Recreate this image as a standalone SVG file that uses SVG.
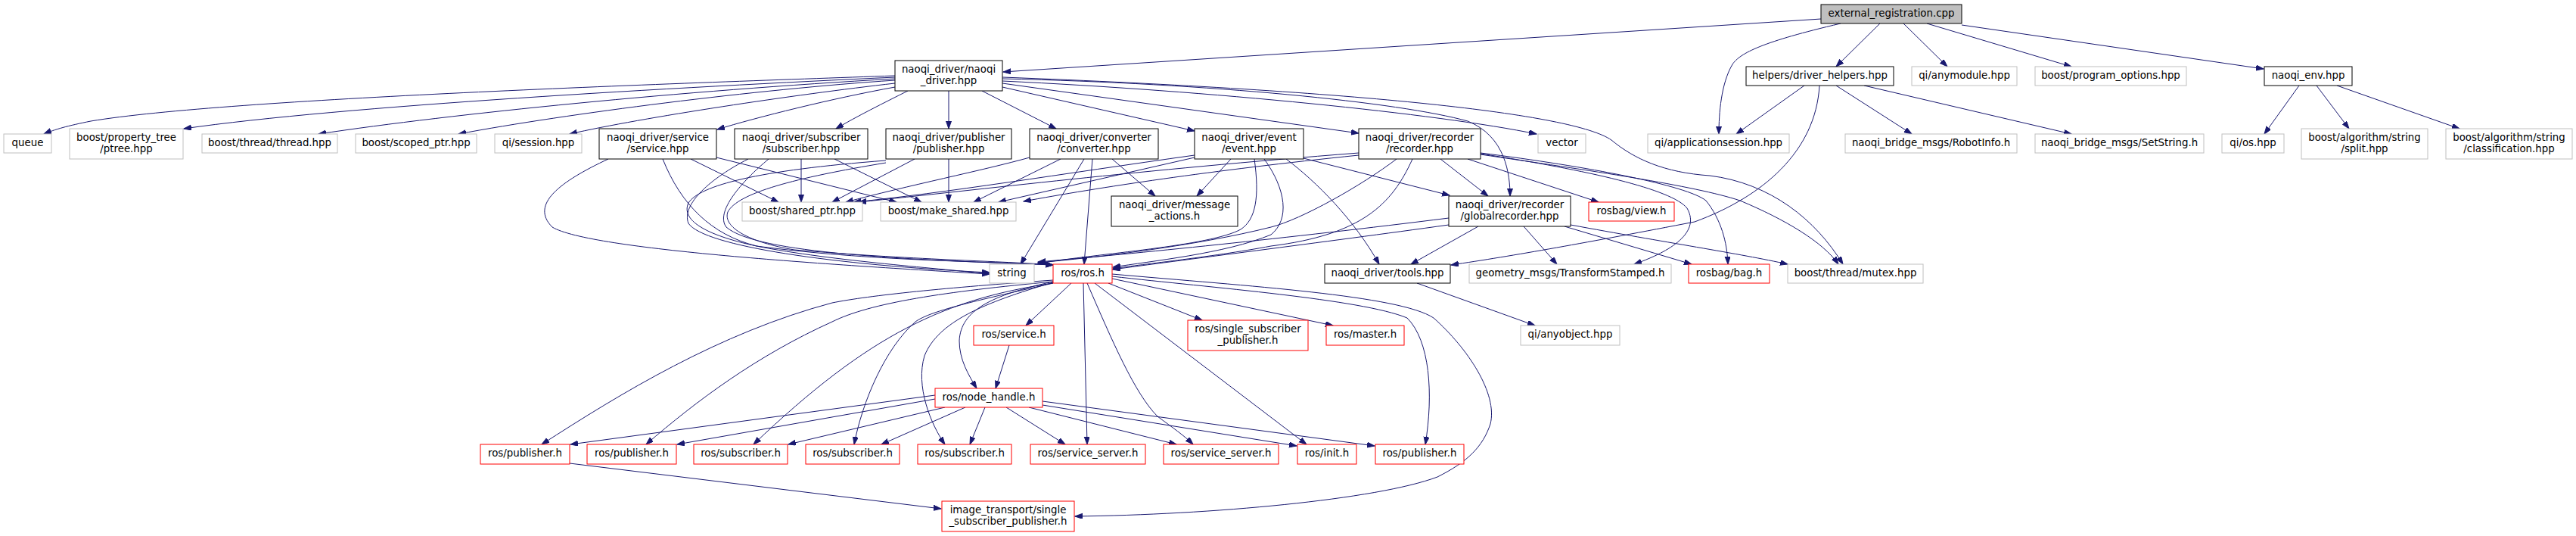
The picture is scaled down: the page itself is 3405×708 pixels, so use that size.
<svg xmlns="http://www.w3.org/2000/svg" width="3405" height="708" viewBox="0 0 3405 708">
<style>
.nb rect{fill:#fff;stroke:#000;stroke-width:1}
.ng rect{fill:#fff;stroke:#bfbfbf;stroke-width:1}
.nr rect{fill:#fff;stroke:#f00;stroke-width:1}
.root rect{fill:#bfbfbf;stroke:#000;stroke-width:1}
text{font-family:"DejaVu Sans","Liberation Sans",sans-serif;font-size:13.33px;text-anchor:middle;fill:#000}
#edges path{fill:none;stroke:#191970;stroke-width:1;marker-end:url(#ah)}
</style>
<defs>
<marker id="ah" markerUnits="userSpaceOnUse" markerWidth="11" markerHeight="8" refX="10" refY="3.5" orient="auto">
<path d="M0,0 L10,3.5 L0,7 z" fill="#191970" stroke="#191970" stroke-width="1"/>
</marker>
</defs>
<rect width="3405" height="708" fill="#fff"/>
<g id="edges">
<path d="M2407,25 L1326,95"/>
<path d="M2433,31 C2330,55 2300,70 2290,85 C2275,110 2272,150 2272,177"/>
<path d="M2485,31 L2427,88"/>
<path d="M2516,31 L2574,88"/>
<path d="M2547,31 L2738,88"/>
<path d="M2593,33 L2992,91"/>
<path d="M2385,113 L2295,177"/>
<path d="M2427,113 L2527,177"/>
<path d="M2464,113 L2738,177"/>
<path d="M2405,113 C2400,200 2330,260 2240,293 C2100,320 2000,338 1918,350"/>
<path d="M3039,113 L2993,177"/>
<path d="M3062,113 L3105,170"/>
<path d="M3089,113 L3251,170"/>
<path d="M1183,100 C900,110 300,130 120,160 C90,166 72,171 58,177"/>
<path d="M1183,102 C900,115 450,140 243,170"/>
<path d="M1183,104 C900,120 600,150 421,177"/>
<path d="M1183,106 C1000,118 750,150 606,177"/>
<path d="M1183,110 C1050,125 850,155 753,177"/>
<path d="M1183,115 C1100,130 1000,155 948,171"/>
<path d="M1200,120 C1170,135 1130,155 1105,170"/>
<path d="M1254,120 L1254,170"/>
<path d="M1298,120 L1396,170"/>
<path d="M1325,115 L1579,173"/>
<path d="M1325,110 L1796,176"/>
<path d="M1325,107 C1600,120 1900,150 2031,177"/>
<path d="M1325,104 C1600,110 1850,135 1940,160 C1990,180 1996,230 1996,259"/>
<path d="M1325,102 C1800,120 2080,150 2130,185 C2160,210 2200,228 2260,232 C2340,242 2400,290 2436,349"/>
<path d="M804,210 C740,240 700,270 730,300 C780,330 1100,350 1308,362"/>
<path d="M876,210 C900,270 940,310 1000,325 C1150,345 1300,345 1392,350"/>
<path d="M913,210 L1029,267"/>
<path d="M947,208 L1185,267"/>
<path d="M989,210 C940,235 900,270 910,295 C930,325 1100,350 1308,360"/>
<path d="M1016,210 C980,240 945,280 960,300 C1000,335 1200,343 1392,350"/>
<path d="M1059,210 L1059,267"/>
<path d="M1103,210 L1218,267"/>
<path d="M1209,210 L1100,267"/>
<path d="M1254,210 L1254,267"/>
<path d="M1171,212 C1000,225 925,245 910,268 C900,290 930,310 1000,325 C1100,345 1250,355 1308,362"/>
<path d="M1171,215 C1050,235 975,255 962,280 C955,300 990,320 1050,330 C1200,343 1330,345 1392,350"/>
<path d="M1361,208 C1300,225 1200,245 1118,267"/>
<path d="M1402,210 L1287,267"/>
<path d="M1433,210 L1349,349"/>
<path d="M1444,210 L1433,349"/>
<path d="M1470,210 L1527,259"/>
<path d="M1579,205 C1400,230 1250,255 1128,267"/>
<path d="M1579,208 L1320,267"/>
<path d="M1627,210 L1582,259"/>
<path d="M1658,210 C1665,260 1660,290 1640,303 C1600,325 1450,335 1372,348"/>
<path d="M1671,210 C1700,250 1705,290 1680,310 C1620,335 1520,345 1471,353"/>
<path d="M1700,210 C1740,240 1790,290 1823,349"/>
<path d="M1723,209 L1916,258"/>
<path d="M1796,202 C1500,225 1300,250 1135,267"/>
<path d="M1796,205 C1600,225 1450,248 1353,266"/>
<path d="M1846,210 C1800,245 1720,290 1680,300 C1580,325 1450,340 1372,347"/>
<path d="M1867,210 C1840,270 1800,310 1680,325 C1600,340 1500,350 1471,355"/>
<path d="M1904,210 L1967,259"/>
<path d="M1940,210 L2113,267"/>
<path d="M1957,203 C2100,225 2210,250 2230,275 C2250,310 2200,335 2160,349"/>
<path d="M1957,202 C2100,220 2230,245 2255,265 C2275,290 2283,320 2284,349"/>
<path d="M1957,204 C2100,225 2240,245 2300,265 C2360,290 2410,320 2430,349"/>
<path d="M1915,288 C1700,315 1500,335 1372,346"/>
<path d="M1915,297 C1750,320 1550,345 1471,356"/>
<path d="M1954,299 L1865,349"/>
<path d="M2014,299 L2058,349"/>
<path d="M2068,299 L2236,349"/>
<path d="M2076,297 C2200,320 2300,335 2363,349"/>
<path d="M1873,374 L2029,430"/>
<path d="M1416,374 L1356,430"/>
<path d="M1392,372 C1310,390 1270,410 1268,450 C1268,475 1280,495 1291,513"/>
<path d="M1392,373 C1300,400 1240,425 1222,470 C1210,510 1230,560 1249,587"/>
<path d="M1392,374 C1300,395 1230,410 1210,425 C1170,460 1140,530 1129,587"/>
<path d="M1392,374 C1250,395 1150,440 996,587"/>
<path d="M1392,372 C1250,385 1150,400 1100,425 C1000,470 920,530 854,587"/>
<path d="M1392,370 C1250,380 1150,390 1100,400 C950,440 820,520 716,587"/>
<path d="M1432,374 L1437,587"/>
<path d="M1437,374 C1470,450 1500,520 1530,550 C1550,565 1565,575 1577,587"/>
<path d="M1447,374 L1727,587"/>
<path d="M1465,374 L1589,423"/>
<path d="M1470,368 L1762,430"/>
<path d="M1470,365 C1600,380 1800,395 1860,420 C1890,450 1895,520 1884,587"/>
<path d="M1470,362 C1650,378 1850,390 1895,420 C1940,460 1980,520 1970,560 C1960,590 1940,610 1900,630 C1820,660 1600,680 1421,682"/>
<path d="M1334,456 L1316,513"/>
<path d="M1236,522 L754,587"/>
<path d="M1236,527 L895,587"/>
<path d="M1249,538 L1042,587"/>
<path d="M1276,538 L1165,587"/>
<path d="M1302,538 L1282,587"/>
<path d="M1330,538 L1408,587"/>
<path d="M1360,538 L1555,587"/>
<path d="M1378,535 L1714,589"/>
<path d="M1378,530 L1817,589"/>
<path d="M753,612 L1244,672"/>
</g>
<g id="n1" class="root"><rect x="2407" y="6" width="186" height="25"/><text x="2500" y="22">external_registration.cpp</text></g>
<g id="n2" class="nb"><rect x="1183" y="80" width="142" height="40"/><text x="1254" y="96">naoqi_driver/naoqi</text><text x="1254" y="110.5">_driver.hpp</text></g>
<g id="n3" class="ng"><rect x="5" y="177" width="63" height="25"/><text x="36.5" y="193">queue</text></g>
<g id="n4" class="ng"><rect x="92" y="170" width="150" height="40"/><text x="167" y="186">boost/property_tree</text><text x="167" y="200.5">/ptree.hpp</text></g>
<g id="n5" class="ng"><rect x="267" y="177" width="179" height="25"/><text x="356.5" y="193">boost/thread/thread.hpp</text></g>
<g id="n6" class="ng"><rect x="470" y="177" width="160" height="25"/><text x="550" y="193">boost/scoped_ptr.hpp</text></g>
<g id="n7" class="ng"><rect x="654" y="177" width="115" height="25"/><text x="711.5" y="193">qi/session.hpp</text></g>
<g id="n8" class="nb"><rect x="792" y="170" width="155" height="40"/><text x="869.5" y="186">naoqi_driver/service</text><text x="869.5" y="200.5">/service.hpp</text></g>
<g id="n9" class="nb"><rect x="971" y="170" width="176" height="40"/><text x="1059" y="186">naoqi_driver/subscriber</text><text x="1059" y="200.5">/subscriber.hpp</text></g>
<g id="n10" class="nb"><rect x="1171" y="170" width="166" height="40"/><text x="1254" y="186">naoqi_driver/publisher</text><text x="1254" y="200.5">/publisher.hpp</text></g>
<g id="n11" class="nb"><rect x="1361" y="170" width="170" height="40"/><text x="1446" y="186">naoqi_driver/converter</text><text x="1446" y="200.5">/converter.hpp</text></g>
<g id="n12" class="nb"><rect x="1579" y="170" width="144" height="40"/><text x="1651" y="186">naoqi_driver/event</text><text x="1651" y="200.5">/event.hpp</text></g>
<g id="n13" class="nb"><rect x="1796" y="170" width="161" height="40"/><text x="1876.5" y="186">naoqi_driver/recorder</text><text x="1876.5" y="200.5">/recorder.hpp</text></g>
<g id="n14" class="ng"><rect x="2033" y="177" width="63" height="25"/><text x="2064.5" y="193">vector</text></g>
<g id="n15" class="ng"><rect x="2178" y="177" width="187" height="25"/><text x="2271.5" y="193">qi/applicationsession.hpp</text></g>
<g id="n16" class="nb"><rect x="2308" y="88" width="195" height="25"/><text x="2405.5" y="104">helpers/driver_helpers.hpp</text></g>
<g id="n17" class="ng"><rect x="2527" y="88" width="139" height="25"/><text x="2596.5" y="104">qi/anymodule.hpp</text></g>
<g id="n18" class="ng"><rect x="2690" y="88" width="200" height="25"/><text x="2790" y="104">boost/program_options.hpp</text></g>
<g id="n19" class="nb"><rect x="2993" y="88" width="116" height="25"/><text x="3051" y="104">naoqi_env.hpp</text></g>
<g id="n20" class="ng"><rect x="2439" y="177" width="227" height="25"/><text x="2552.5" y="193">naoqi_bridge_msgs/RobotInfo.h</text></g>
<g id="n21" class="ng"><rect x="2690" y="177" width="223" height="25"/><text x="2801.5" y="193">naoqi_bridge_msgs/SetString.h</text></g>
<g id="n22" class="ng"><rect x="2937" y="177" width="82" height="25"/><text x="2978" y="193">qi/os.hpp</text></g>
<g id="n23" class="ng"><rect x="3042" y="170" width="167" height="40"/><text x="3125.5" y="186">boost/algorithm/string</text><text x="3125.5" y="200.5">/split.hpp</text></g>
<g id="n24" class="ng"><rect x="3233" y="170" width="167" height="40"/><text x="3316.5" y="186">boost/algorithm/string</text><text x="3316.5" y="200.5">/classification.hpp</text></g>
<g id="n25" class="ng"><rect x="981" y="267" width="159" height="25"/><text x="1060.5" y="283">boost/shared_ptr.hpp</text></g>
<g id="n26" class="ng"><rect x="1164" y="267" width="179" height="25"/><text x="1253.5" y="283">boost/make_shared.hpp</text></g>
<g id="n27" class="nb"><rect x="1469" y="259" width="167" height="40"/><text x="1552.5" y="275">naoqi_driver/message</text><text x="1552.5" y="289.5">_actions.h</text></g>
<g id="n28" class="nb"><rect x="1915" y="259" width="161" height="40"/><text x="1995.5" y="275">naoqi_driver/recorder</text><text x="1995.5" y="289.5">/globalrecorder.hpp</text></g>
<g id="n29" class="nr"><rect x="2100" y="267" width="113" height="25"/><text x="2156.5" y="283">rosbag/view.h</text></g>
<g id="n30" class="ng"><rect x="1308" y="349" width="59" height="25"/><text x="1337.5" y="365">string</text></g>
<g id="n31" class="nr"><rect x="1392" y="349" width="78" height="25"/><text x="1431" y="365">ros/ros.h</text></g>
<g id="n32" class="nb"><rect x="1751" y="349" width="166" height="25"/><text x="1834" y="365">naoqi_driver/tools.hpp</text></g>
<g id="n33" class="ng"><rect x="1942" y="349" width="267" height="25"/><text x="2075.5" y="365">geometry_msgs/TransformStamped.h</text></g>
<g id="n34" class="nr"><rect x="2232" y="349" width="107" height="25"/><text x="2285.5" y="365">rosbag/bag.h</text></g>
<g id="n35" class="ng"><rect x="2363" y="349" width="179" height="25"/><text x="2452.5" y="365">boost/thread/mutex.hpp</text></g>
<g id="n36" class="ng"><rect x="2010" y="430" width="131" height="26"/><text x="2075.5" y="446">qi/anyobject.hpp</text></g>
<g id="n37" class="nr"><rect x="1287" y="430" width="106" height="26"/><text x="1340" y="446">ros/service.h</text></g>
<g id="n38" class="nr"><rect x="1570" y="423" width="159" height="40"/><text x="1649.5" y="439">ros/single_subscriber</text><text x="1649.5" y="453.5">_publisher.h</text></g>
<g id="n39" class="nr"><rect x="1753" y="430" width="103" height="26"/><text x="1804.5" y="446">ros/master.h</text></g>
<g id="n40" class="nr"><rect x="1236" y="513" width="142" height="25"/><text x="1307" y="529">ros/node_handle.h</text></g>
<g id="n41" class="nr"><rect x="635" y="587" width="118" height="26"/><text x="694" y="603">ros/publisher.h</text></g>
<g id="n42" class="nr"><rect x="776" y="587" width="118" height="26"/><text x="835" y="603">ros/publisher.h</text></g>
<g id="n43" class="nr"><rect x="917" y="587" width="124" height="26"/><text x="979" y="603">ros/subscriber.h</text></g>
<g id="n44" class="nr"><rect x="1065" y="587" width="124" height="26"/><text x="1127" y="603">ros/subscriber.h</text></g>
<g id="n45" class="nr"><rect x="1213" y="587" width="124" height="26"/><text x="1275" y="603">ros/subscriber.h</text></g>
<g id="n46" class="nr"><rect x="1362" y="587" width="152" height="26"/><text x="1438" y="603">ros/service_server.h</text></g>
<g id="n47" class="nr"><rect x="1538" y="587" width="152" height="26"/><text x="1614" y="603">ros/service_server.h</text></g>
<g id="n48" class="nr"><rect x="1715" y="587" width="78" height="26"/><text x="1754" y="603">ros/init.h</text></g>
<g id="n49" class="nr"><rect x="1818" y="587" width="117" height="26"/><text x="1876.5" y="603">ros/publisher.h</text></g>
<g id="n50" class="nr"><rect x="1245" y="662" width="175" height="40"/><text x="1332.5" y="678">image_transport/single</text><text x="1332.5" y="692.5">_subscriber_publisher.h</text></g>
</svg>
